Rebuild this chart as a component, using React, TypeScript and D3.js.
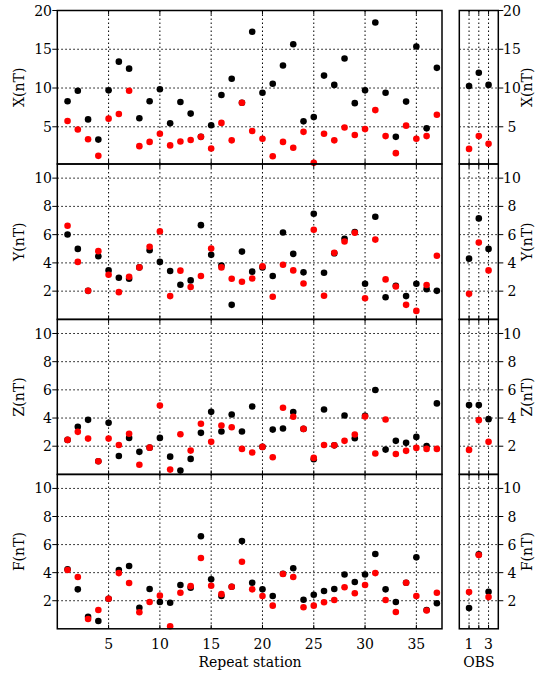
import React from 'react';
import * as d3 from 'd3';

const stations = d3.range(1, 38);
const obs = [1, 2, 3];

const xBlack = [8.3, 9.65, 5.95, 3.35, 9.7, 13.4, 12.5, 6.1, 8.3, 9.85, 5.45, 8.2, 6.7, 3.7, 5.2, 9.1, 11.2, 8.1, 17.25, 9.4, 10.55, 12.9, 15.65, 5.7, 6.25, 11.6, 10.4, 13.8, 8.05, 9.7, 18.45, 9.4, 3.7, 8.25, 15.35, 4.8, 12.6];
const xRed = [5.75, 4.65, 3.4, 1.25, 6.05, 6.65, 9.65, 2.5, 3.05, 4.1, 2.6, 3.1, 3.3, 3.7, 2.2, 5.5, 3.25, 8.1, 4.45, 3.45, 1.2, 3.05, 2.3, 4.35, 0.35, 4.1, 3.25, 4.9, 3.95, 4.7, 7.15, 3.8, 1.6, 5.15, 3.45, 3.8, 6.55];
const yBlack = [6.01, 4.99, 2.02, 4.47, 3.47, 2.95, 2.88, 3.68, 4.9, 4.07, 3.43, 2.45, 2.76, 6.67, 4.57, 3.82, 1.03, 4.8, 3.38, 3.68, 3.07, 6.15, 4.64, 3.33, 7.48, 3.3, 4.68, 5.7, 6.18, 2.52, 7.27, 1.57, 2.38, 1.65, 2.52, 2.14, 2.02];
const yRed = [6.63, 4.07, 2.02, 4.83, 3.16, 1.93, 3.02, 3.68, 5.14, 6.23, 1.65, 3.45, 2.29, 3.07, 5.01, 3.68, 2.88, 2.66, 2.9, 3.75, 1.6, 3.87, 3.47, 2.54, 6.35, 1.67, 4.71, 5.51, 6.13, 1.5, 5.65, 2.83, 2.33, 1.03, 0.6, 2.43, 4.51];
const zBlack = [2.45, 3.38, 3.87, 0.93, 3.66, 1.31, 2.59, 1.6, 1.9, 2.59, 1.26, 0.27, 1.1, 2.95, 4.44, 3.04, 4.25, 3.04, 4.82, 1.95, 3.18, 3.26, 4.42, 3.23, 1.08, 4.61, 2.06, 4.18, 2.57, 4.16, 5.99, 1.76, 2.38, 2.24, 2.66, 2.02, 5.04];
const zRed = [2.45, 3.02, 2.54, 0.93, 2.54, 2.09, 2.88, 0.69, 1.9, 4.89, 0.34, 2.85, 1.69, 3.59, 2.31, 3.47, 3.35, 1.81, 1.55, 1.95, 1.22, 4.73, 4.09, 3.23, 1.17, 2.09, 2.06, 2.38, 2.83, 4.11, 1.48, 3.9, 1.45, 1.67, 1.88, 1.81, 1.81];
const fBlack = [4.24, 2.81, 0.86, 0.56, 2.14, 4.19, 4.47, 1.5, 2.84, 1.91, 1.86, 3.12, 2.93, 6.59, 3.53, 2.34, 3.0, 6.25, 3.28, 2.81, 2.34, 3.92, 4.31, 2.07, 2.43, 2.69, 2.84, 3.87, 3.33, 3.87, 5.33, 2.81, 1.91, 3.28, 5.09, 1.34, 1.82];
const fRed = [4.19, 3.69, 0.7, 1.34, 2.14, 3.97, 3.26, 1.18, 1.91, 2.36, 0.18, 2.57, 3.04, 5.04, 3.07, 2.47, 3.0, 4.78, 2.81, 2.34, 1.65, 3.9, 3.69, 1.53, 1.65, 1.89, 2.05, 2.96, 2.53, 3.12, 3.97, 2.05, 1.2, 3.28, 2.34, 1.3, 2.57];

const obsXBlack = [10.25, 11.97, 10.4];
const obsXRed = [2.15, 3.8, 2.8];
const obsYBlack = [4.3, 7.15, 4.99];
const obsYRed = [1.81, 5.44, 3.47];
const obsZBlack = [4.92, 4.92, 3.92];
const obsZRed = [1.74, 3.85, 2.31];
const obsFBlack = [1.48, 5.3, 2.64];
const obsFRed = [2.62, 5.26, 2.26];

const stationTicks = [5, 10, 15, 20, 25, 30, 35];
const obsTicks = [1, 3];
const obsGrid = [1, 2, 3];

const panels = [
  { label: 'X(nT)', domain: [0.2, 20], ticks: [5, 10, 15, 20], black: xBlack, red: xRed, oBlack: obsXBlack, oRed: obsXRed },
  { label: 'Y(nT)', domain: [0, 11], ticks: [2, 4, 6, 8, 10], black: yBlack, red: yRed, oBlack: obsYBlack, oRed: obsYRed },
  { label: 'Z(nT)', domain: [0, 11], ticks: [2, 4, 6, 8, 10], black: zBlack, red: zRed, oBlack: obsZBlack, oRed: obsZRed },
  { label: 'F(nT)', domain: [0, 11], ticks: [2, 4, 6, 8, 10], black: fBlack, red: fRed, oBlack: obsFBlack, oRed: obsFRed },
];

const W = 542, H = 673;
const font = '"DejaVu Serif", serif';
const bounds = [10.5, 164, 319.4, 474.4, 628.8];

export default function App() {
  const x = d3.scaleLinear().domain([0, 37.5]).range([57.3, 442]);
  const xo = d3.scaleLinear().domain([0, 4]).range([459.3, 498.3]);
  const r = 3.3;

  return (
    <svg width={W} height={H} style={{ position: 'absolute', left: 0, top: 0, background: '#fff' }} fontFamily={font}>
      {panels.map((p, i) => {
        const top = bounds[i], bot = bounds[i + 1];
        const y = d3.scaleLinear().domain(p.domain).range([bot, top]);
        return (
          <g key={p.label}>
            {/* grid */}
            {stationTicks.map(t => (
              <line key={'v' + t} x1={x(t)} x2={x(t)} y1={top} y2={bot} stroke="#000" strokeWidth={1} strokeDasharray="1.5,2.5" />
            ))}
            {obsGrid.map(t => (
              <line key={'ov' + t} x1={xo(t)} x2={xo(t)} y1={top} y2={bot} stroke="#000" strokeWidth={1} strokeDasharray="1.5,2.5" />
            ))}
            {p.ticks.map(t => (
              <g key={'h' + t}>
                <line x1={x.range()[0]} x2={x.range()[1]} y1={y(t)} y2={y(t)} stroke="#000" strokeDasharray="1.5,2.5" />
                <line x1={xo.range()[0]} x2={xo.range()[1]} y1={y(t)} y2={y(t)} stroke="#000" strokeDasharray="1.5,2.5" />
                <line x1={x.range()[0] - 5} x2={x.range()[0]} y1={y(t)} y2={y(t)} stroke="#000" />
                <line x1={xo.range()[1]} x2={xo.range()[1] + 5} y1={y(t)} y2={y(t)} stroke="#000" />
                <text x={52} y={y(t)} dy="0.36em" textAnchor="end" fontSize={14}>{t}</text>
                <text x={512} y={y(t)} dy="0.36em" textAnchor="middle" fontSize={14}>{t}</text>
              </g>
            ))}
            {stationTicks.map(t => (
              <g key={'tk' + t}>
                <line x1={x(t)} x2={x(t)} y1={top} y2={top + 4} stroke="#000" />
                <line x1={x(t)} x2={x(t)} y1={bot - 4} y2={bot} stroke="#000" />
              </g>
            ))}
            {obsGrid.map(t => (
              <g key={'otk' + t}>
                <line x1={xo(t)} x2={xo(t)} y1={top} y2={top + 4} stroke="#000" />
                <line x1={xo(t)} x2={xo(t)} y1={bot - 4} y2={bot} stroke="#000" />
              </g>
            ))}
            {/* points */}
            {stations.map((s, j) => <circle key={'b' + s} cx={x(s)} cy={y(p.black[j])} r={r} fill="#000" />)}
            {stations.map((s, j) => <circle key={'r' + s} cx={x(s)} cy={y(p.red[j])} r={r} fill="#ff0000" />)}
            {obs.map((s, j) => <circle key={'ob' + s} cx={xo(s)} cy={y(p.oBlack[j])} r={r} fill="#000" />)}
            {obs.map((s, j) => <circle key={'or' + s} cx={xo(s)} cy={y(p.oRed[j])} r={r} fill="#ff0000" />)}
            {/* frames */}
            <rect x={x.range()[0]} y={top} width={x.range()[1] - x.range()[0]} height={bot - top} fill="none" stroke="#000" strokeWidth={1.5} />
            <rect x={xo.range()[0]} y={top} width={xo.range()[1] - xo.range()[0]} height={bot - top} fill="none" stroke="#000" strokeWidth={1.5} />
            <text transform={`translate(24,${(top + bot) / 2}) rotate(-90)`} textAnchor="middle" fontSize={14}>{p.label}</text>
            <text transform={`translate(532,${(top + bot) / 2}) rotate(-90)`} textAnchor="middle" fontSize={14}>{p.label}</text>
          </g>
        );
      })}
      {stationTicks.map(t => (
        <text key={'xl' + t} x={x(t)} y={649} textAnchor="middle" fontSize={14}>{t}</text>
      ))}
      {obsTicks.map(t => (
        <text key={'ol' + t} x={xo(t)} y={649} textAnchor="middle" fontSize={14}>{t}</text>
      ))}
      <text x={250} y={667} textAnchor="middle" fontSize={14}>Repeat station</text>
      <text x={479} y={667} textAnchor="middle" fontSize={14}>OBS</text>
    </svg>
  );
}
